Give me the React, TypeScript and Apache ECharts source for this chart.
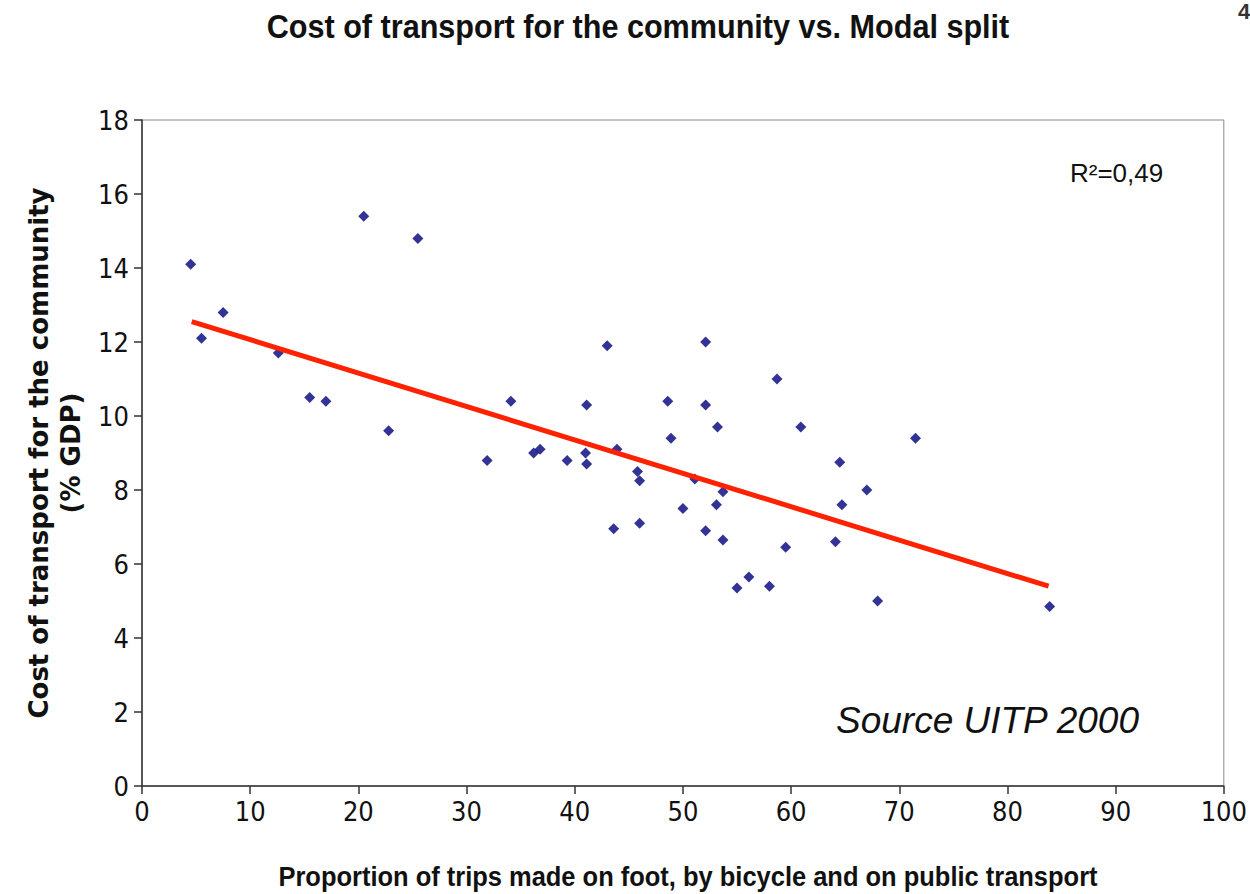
import React, { useEffect, useRef } from "react";
import * as echarts from "echarts";

const pointsX = [
  4.5, 5.5, 7.5, 12.6, 15.5, 17.0, 20.5, 22.8, 25.5, 31.9, 34.1, 36.2, 36.8,
  39.3, 41.1, 41.0, 41.1, 43.0, 43.6, 43.9, 45.8, 46.0, 46.0, 48.6, 48.9, 50.0,
  51.1, 52.1, 52.1, 52.1, 53.1, 53.2, 53.7, 53.7, 55.0, 56.1, 58.0, 58.7, 59.5,
  60.9, 64.1, 64.5, 64.7, 67.0, 68.0, 71.5, 83.9,
];
const pointsY = [
  14.1, 12.1, 12.8, 11.7, 10.5, 10.4, 15.4, 9.6, 14.8, 8.8, 10.4, 9.0, 9.1,
  8.8, 10.3, 9.0, 8.7, 11.9, 6.95, 9.1, 8.5, 8.25, 7.1, 10.4, 9.4, 7.5,
  8.3, 12.0, 10.3, 6.9, 7.6, 9.7, 7.95, 6.65, 5.35, 5.65, 5.4, 11.0, 6.45,
  9.7, 6.6, 8.75, 7.6, 8.0, 5.0, 9.4, 4.85,
];
const trendX = [4.6, 83.8];
const trendY = [12.55, 5.4];
const xTicks = { min: 0, max: 100, interval: 10 };
const yTicks = { min: 0, max: 18, interval: 2 };

const titleText = "Cost of transport for the community vs. Modal split";
const xName = "Proportion of trips made on foot, by bicycle and on public transport";
const yName = "Cost of transport for the community\n(% GDP)";
const r2Text = "R²=0,49";
const sourceText = "Source UITP 2000";

const COND = "'DejaVu Sans Condensed', 'Liberation Sans', Arial, sans-serif";
const SANS = "'Liberation Sans', Arial, sans-serif";
const WIDE = "'DejaVu Sans', Verdana, sans-serif";

export default function App() {
  const ref = useRef<HTMLDivElement>(null);
  useEffect(() => {
    document.body.style.margin = "0";
    const chart = echarts.init(ref.current!, null, { renderer: "svg" });
    const scatter = pointsX.map((x, i) => [x, pointsY[i]]);
    const trend = trendX.map((x, i) => [x, trendY[i]]);
    chart.setOption({
      animation: false,
      backgroundColor: "#ffffff",
      grid: {
        left: 142,
        right: 19,
        top: 120,
        bottom: 108,
        show: true,
        borderColor: "#8a8a8a",
        borderWidth: 1,
        backgroundColor: "transparent",
      },
      xAxis: {
        type: "value",
        min: xTicks.min,
        max: xTicks.max,
        interval: xTicks.interval,
        splitLine: { show: false },
        axisLine: { show: true, lineStyle: { color: "#333", width: 1.5 } },
        axisTick: { show: true, length: 8, lineStyle: { color: "#333", width: 1.5 } },
        axisLabel: { fontFamily: COND, fontSize: 27, color: "#111", margin: 12 },
      },
      yAxis: {
        type: "value",
        min: yTicks.min,
        max: yTicks.max,
        interval: yTicks.interval,
        splitLine: { show: false },
        axisLine: { show: true, lineStyle: { color: "#333", width: 1.5 } },
        axisTick: { show: true, length: 8, lineStyle: { color: "#333", width: 1.5 } },
        axisLabel: { fontFamily: COND, fontSize: 27, color: "#111", margin: 13 },
        name: yName,
        nameLocation: "middle",
        nameRotate: 90,
        nameGap: 53,
        nameTextStyle: { fontFamily: WIDE, fontWeight: "bold", fontSize: 26, color: "#111", lineHeight: 32 },
      },
      series: [
        {
          type: "scatter",
          data: scatter,
          symbol: "diamond",
          symbolSize: 11,
          itemStyle: { color: "#00007a" },
          z: 3,
        },
        {
          type: "line",
          data: trend,
          symbol: "none",
          lineStyle: { color: "#ff2200", width: 5 },
          z: 4,
        },
      ],
      graphic: [
        {
          type: "text",
          x: 638,
          y: 26,
          scaleX: 0.9,
          style: {
            text: titleText,
            fontFamily: SANS,
            fontWeight: "bold",
            fontSize: 34,
            fill: "#111",
            align: "center",
            verticalAlign: "middle",
          },
        },
        {
          type: "text",
          x: 688,
          y: 877,
          scaleX: 0.91,
          style: {
            text: xName,
            fontFamily: SANS,
            fontWeight: "bold",
            fontSize: 28,
            fill: "#111",
            align: "center",
            verticalAlign: "middle",
          },
        },
        {
          type: "text",
          left: 1070,
          top: 160,
          style: { text: r2Text, fontFamily: SANS, fontSize: 26, fill: "#111" },
        },
        {
          type: "text",
          left: 836,
          top: 702,
          style: { text: sourceText, fontFamily: SANS, fontStyle: "italic", fontSize: 37, fill: "#111" },
        },
        {
          type: "text",
          left: 1238,
          top: 0,
          style: { text: "4", fontFamily: SANS, fontWeight: "bold", fontSize: 22, fill: "#333" },
        },
      ],
    });
    return () => chart.dispose();
  }, []);
  return <div ref={ref} style={{ width: 1250, height: 894 }} />;
}
